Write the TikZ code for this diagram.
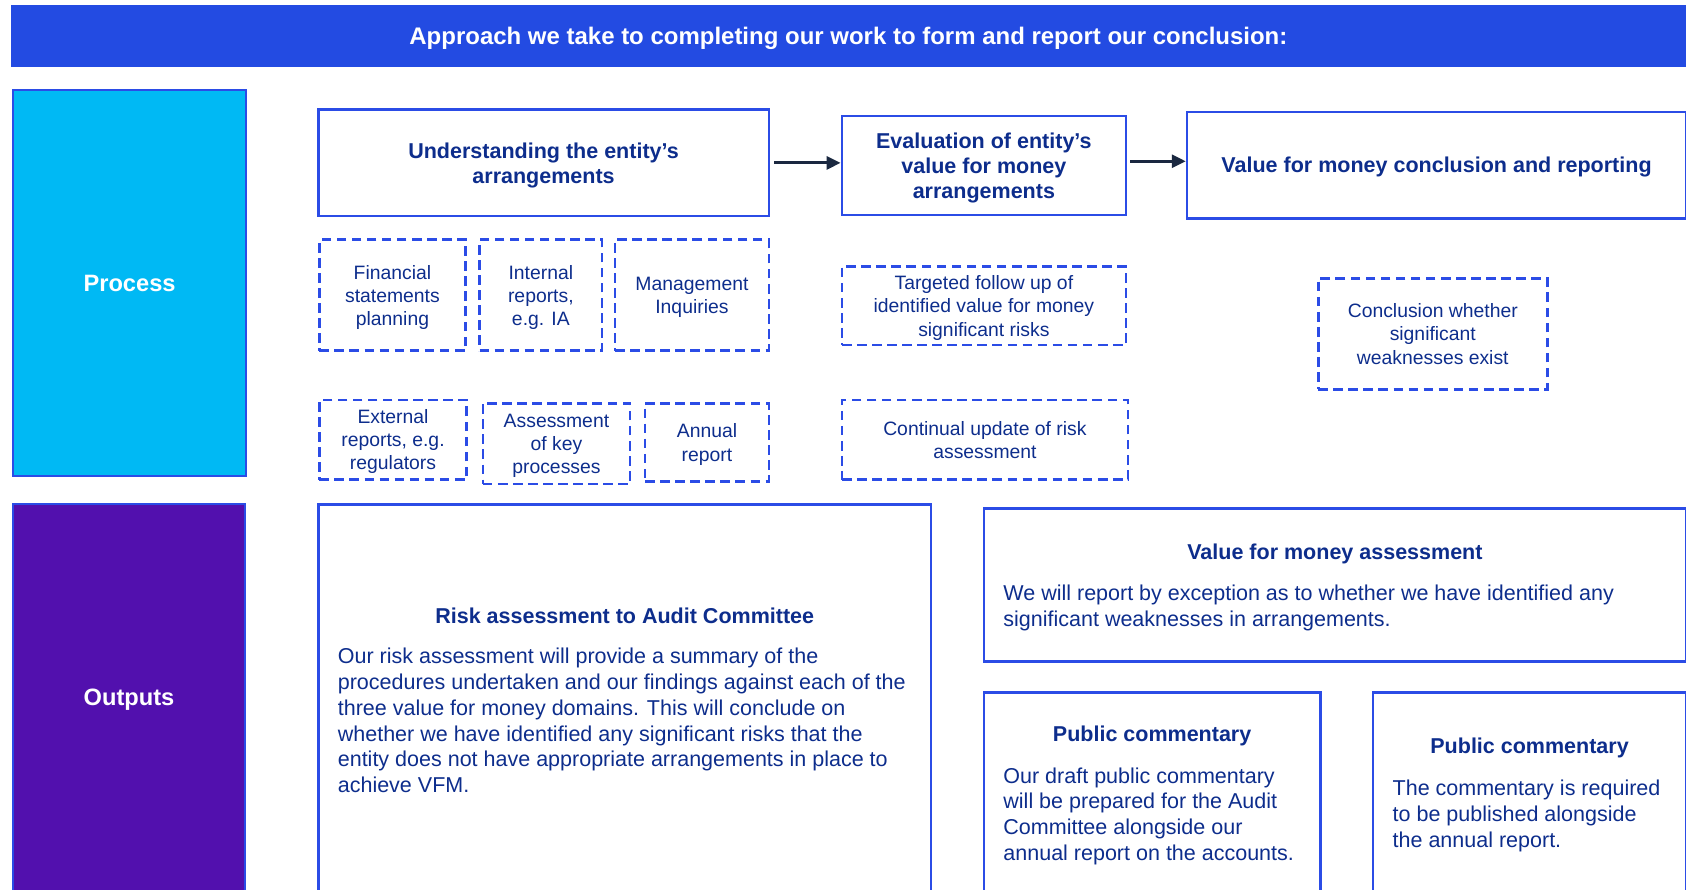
\documentclass[tikz,border=0pt]{standalone}
\usepackage{fontspec}
\setmainfont{Liberation Sans}
\usetikzlibrary{arrows.meta}

\definecolor{hdrblue}{HTML}{234BE2}
\definecolor{lineblue}{HTML}{2B4CE6}
\definecolor{navy}{HTML}{0D2D8C}
\definecolor{cyanfill}{HTML}{00B9F4}
\definecolor{purplefill}{HTML}{5210AE}
\definecolor{arrowcol}{HTML}{1A2840}

\begin{document}
\begin{tikzpicture}[x=1pt,y=-1pt,
    solidbox/.style={draw=lineblue, line width=2.4pt, text=navy, align=center, inner sep=0pt,
        text depth=-4pt, font=\bfseries\fontsize{20}{23.5}\selectfont},
    dashbox/.style={draw=lineblue, line width=2.4pt, dash pattern=on 9pt off 5pt, text=navy,
        align=center, inner sep=0pt, text depth=-1pt, font=\fontsize{18}{21.5}\selectfont},
    sidebox/.style={draw=lineblue, line width=2pt, text=white, inner sep=0pt,
        font=\bfseries\fontsize{22}{26}\selectfont},
    ttl/.style={text=navy, inner sep=0pt, font=\bfseries\fontsize{20}{24}\selectfont},
    txt/.style={text=navy, align=left, anchor=north west, inner sep=0pt,
        font=\fontsize{20}{24}\selectfont},
    arr/.style={-{Triangle[length=13pt,width=12pt]}, draw=arrowcol, line width=2.8pt}]
    \useasboundingbox (0,0) rectangle (1568,827);
    \clip (0,0) rectangle (1568,827);

    % header and side labels
    \node[fill=hdrblue, minimum width=1558, minimum height=57, text=white, text depth=-3pt,
        font=\bfseries\fontsize{22.3}{26}\selectfont] (head) at (789,33.5)
        {Approach we take to completing our work to form and report our conclusion:};
    \node[sidebox, fill=cyanfill, minimum width=217, minimum height=359] (proc) at (120.5,263.5) {Process};
    \node[sidebox, fill=purplefill, minimum width=216, minimum height=363] (outp) at (120,650.5) {Outputs};

    % process steps
    \node[solidbox, minimum width=419, minimum height=99] (under) at (505.5,151.5) {Understanding the entity’s\\arrangements};
    \node[solidbox, minimum width=264, minimum height=92] (eval) at (915,154) {Evaluation of entity’s\\value for money\\arrangements};
    \node[solidbox, minimum width=464, minimum height=99] (concl) at (1336,153.5) {Value for money conclusion and reporting};
    \draw[arr] ([xshift=4pt]under.east) -- (under.east -| eval.west);
    \draw[arr] ([xshift=3pt,yshift=4pt]eval.east) -- ([yshift=4pt]eval.east -| concl.west);

    \node[dashbox, minimum width=136, minimum height=103] (fin) at (365,274.5) {Financial\\statements\\planning};
    \node[dashbox, minimum width=114, minimum height=103] (intr) at (503,274.5) {Internal\\reports,\\e.g. IA};
    \node[dashbox, minimum width=143, minimum height=103] (mgmt) at (643.5,274.5) {Management\\Inquiries};
    \node[dashbox, minimum width=137, minimum height=74] (ext) at (365.5,409) {External\\reports, e.g.\\regulators};
    \node[dashbox, minimum width=137, minimum height=75] (keyp) at (517.5,412.5) {Assessment\\of key\\processes};
    \node[dashbox, minimum width=115, minimum height=73] (annual) at (657.5,411.5) {Annual\\report};
    \node[dashbox, minimum width=264, minimum height=73] (target) at (915,284.5) {Targeted follow up of\\identified value for money\\significant risks};
    \node[dashbox, minimum width=266, minimum height=74] (contin) at (916,409) {Continual update of risk\\assessment};
    \node[dashbox, minimum width=213, minimum height=103] (weak) at (1332.5,310.5) {Conclusion whether\\significant\\weaknesses exist};

    % outputs
    \node[solidbox, minimum width=570, minimum height=363] (risk) at (581,650.5) {};
    \node[ttl] (riskTtl) at (581,573) {Risk assessment to Audit Committee};
    \node[txt] (riskTxt) at (314,602.5) {Our risk assessment will provide a summary of the\\
        procedures undertaken and our findings against each of the\\
        three value for money domains. This will conclude on\\
        whether we have identified any significant risks that the\\
        entity does not have appropriate arrangements in place to\\
        achieve VFM.};

    \node[solidbox, minimum width=653, minimum height=142] (vfma) at (1241.5,544) {};
    \node[ttl] (vfmaTtl) at (1241.5,515) {Value for money assessment};
    \node[txt] (vfmaTxt) at (933,543.5) {We will report by exception as to whether we have identified any\\
        significant weaknesses in arrangements.};

    \node[solidbox, minimum width=313, minimum height=188] (pubA) at (1071.5,738) {};
    \node[ttl] (pubATtl) at (1071.5,684) {Public commentary};
    \node[txt] (pubATxt) at (933,713.5) {Our draft public commentary\\
        will be prepared for the Audit\\
        Committee alongside our\\
        annual report on the accounts.};

    \node[solidbox, minimum width=291, minimum height=188] (pubB) at (1422.5,738) {};
    \node[ttl] (pubBTtl) at (1422.5,696) {Public commentary};
    \node[txt] (pubBTxt) at (1295,725.5) {The commentary is required\\
        to be published alongside\\
        the annual report.};
\end{tikzpicture}
\end{document}
